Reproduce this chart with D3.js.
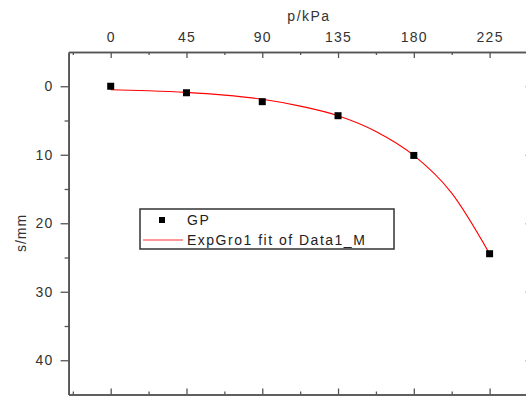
<!DOCTYPE html>
<html><head><meta charset="utf-8">
<script src="https://cdn.jsdelivr.net/npm/d3@7"></script>
<style>body{margin:0;background:#fff}svg{display:block}text{font-family:"Liberation Sans",Arial,sans-serif}</style>
</head><body>
<script>
// Data
const pressure = [0, 45, 90, 135, 180, 225];           // p/kPa
const settlement = [0.0, 0.95, 2.25, 4.3, 10.1, 24.45]; // s/mm (GP)
const fitP = [0, 22.5, 45, 67.5, 90, 112.5, 135, 157.5, 180, 202.5, 225];
const fitS = [0.5, 0.65, 0.9, 1.3, 1.9, 2.9, 4.3, 6.6, 10.1, 15.6, 24.45];
const xTicks = [0, 45, 90, 135, 180, 225];
const xMinor = [-22.5, 22.5, 67.5, 112.5, 157.5, 202.5, 247.5];
const yTicks = [0, 10, 20, 30, 40];
const yMinor = [5, 15, 25, 35];
const legendLabels = ["GP", "ExpGro1 fit of Data1_M"];

const W = 526, H = 396;
const L = 68.6, R = 531.7, T = 52, B = 394.5;
const axisColor = "#555";

const svg = d3.select("body").append("svg").attr("width", W).attr("height", H);
const x = d3.scaleLinear().domain([-25, 250]).range([L, R]);
const y = d3.scaleLinear().domain([-5, 45]).range([T, B]);

function style(g, showText) {
  g.select(".domain").attr("stroke", axisColor).attr("stroke-width", 1.6);
  g.selectAll(".tick line").attr("stroke", axisColor).attr("stroke-width", 1.3);
  g.selectAll("text").attr("fill", "#333").style("font-size", "14px").style("letter-spacing", "1.3px");
  if (!showText) g.selectAll("text").remove();
}

// top axis (labelled), ticks inward
svg.append("g").attr("transform", `translate(0,${T})`)
  .call(d3.axisTop(x).tickValues(xTicks).tickSize(-6).tickPadding(10.5).tickSizeOuter(0))
  .call(g => style(g, true));
svg.append("g").attr("transform", `translate(0,${T})`)
  .call(d3.axisTop(x).tickValues(xMinor).tickSize(-3).tickSizeOuter(0).tickFormat(""))
  .call(g => style(g, false));
// bottom axis
svg.append("g").attr("transform", `translate(0,${B})`)
  .call(d3.axisBottom(x).tickValues(xTicks).tickSize(-6).tickSizeOuter(0).tickFormat(""))
  .call(g => style(g, false));
svg.append("g").attr("transform", `translate(0,${B})`)
  .call(d3.axisBottom(x).tickValues(xMinor).tickSize(-3).tickSizeOuter(0).tickFormat(""))
  .call(g => style(g, false));
// left axis, ticks outward
svg.append("g").attr("transform", `translate(${L},0)`)
  .call(d3.axisLeft(y).tickValues(yTicks).tickSize(8).tickPadding(7).tickSizeOuter(0))
  .call(g => style(g, true));
svg.append("g").attr("transform", `translate(${L},0)`)
  .call(d3.axisLeft(y).tickValues(yMinor).tickSize(4).tickSizeOuter(0).tickFormat(""))
  .call(g => style(g, false));
// right axis
svg.append("g").attr("transform", `translate(${R},0)`)
  .call(d3.axisRight(y).tickValues(yTicks).tickSize(-6).tickSizeOuter(0).tickFormat(""))
  .call(g => style(g, false));

// axis titles
svg.append("text").attr("x", 309).attr("y", 21).attr("text-anchor", "middle")
  .attr("fill", "#333").style("font-size", "14px").style("letter-spacing", "1.5px").text("p/kPa");
svg.append("text").attr("transform", "translate(25.5,233) rotate(-90)").attr("text-anchor", "middle")
  .attr("fill", "#333").style("font-size", "14px").style("letter-spacing", "1px").text("s/mm");

// fit curve
const fitData = fitP.map((p, i) => [p, fitS[i]]);
svg.append("path").datum(fitData)
  .attr("d", d3.line().x(d => x(d[0])).y(d => y(d[1])).curve(d3.curveMonotoneX))
  .attr("fill", "none").attr("stroke", "#ff0000").attr("stroke-width", 1.1);

// points
const ms = 7;
svg.append("g").selectAll("rect").data(pressure.map((p, i) => [p, settlement[i]])).join("rect")
  .attr("x", d => x(d[0]) - ms / 2).attr("y", d => y(d[1]) - ms / 2)
  .attr("width", ms).attr("height", ms).attr("fill", "#000");

// legend
const lg = svg.append("g");
lg.append("rect").attr("x", 140).attr("y", 209).attr("width", 254).attr("height", 40)
  .attr("fill", "#fff").attr("stroke", "#333").attr("stroke-width", 1.5);
lg.append("rect").attr("x", 159).attr("y", 217).attr("width", 6).attr("height", 6).attr("fill", "#000");
lg.append("line").attr("x1", 143).attr("x2", 183).attr("y1", 240).attr("y2", 240)
  .attr("stroke", "#ff0000").attr("stroke-width", 1.2).attr("opacity", 0.8);
lg.selectAll("text.leg").data(legendLabels).join("text").attr("class", "leg")
  .attr("x", 187).attr("y", (d, i) => 225 + i * 20)
  .attr("fill", "#222").style("font-size", "14px").style("letter-spacing", "1.5px").text(d => d);
</script>
</body></html>
